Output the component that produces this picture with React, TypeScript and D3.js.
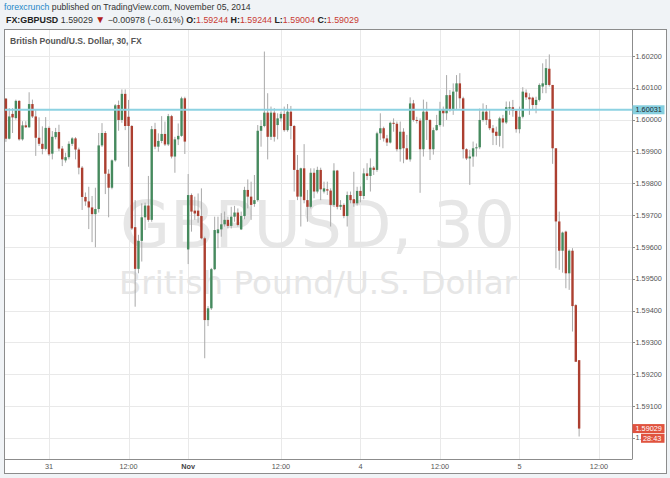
import React from 'react';
import * as d3 from 'd3';

// ---- data (GBPUSD 30-minute candles) ----
const opens = [
  1.60066, 1.5994, 1.60018, 1.60005, 1.60059, 1.59938, 1.59982, 1.59976, 1.60049, 1.6001,
  1.59943, 1.59924, 1.59908, 1.59974, 1.59893, 1.59945, 1.59961, 1.59909, 1.59872, 1.59882,
  1.59924, 1.59941, 1.59906, 1.59849, 1.59757, 1.59743, 1.59724, 1.59703, 1.59719, 1.59919,
  1.59958, 1.5983, 1.59786, 1.59872, 1.60046, 1.59999, 1.60081, 1.60009, 1.5998, 1.59662,
  1.59531, 1.59619, 1.59693, 1.5973, 1.59685, 1.5997, 1.59915, 1.59933, 1.59955, 1.59922,
  1.60011, 1.59884, 1.59938, 1.59949, 1.60067, 1.59592, 1.59763, 1.59714, 1.59714, 1.59697,
  1.59627, 1.5937, 1.59407, 1.5953, 1.59643, 1.59655, 1.59671, 1.59685, 1.59666, 1.59695,
  1.59708, 1.59655, 1.59697, 1.59779, 1.59758, 1.59735, 1.59747, 1.59965, 1.5998, 1.60022,
  1.59946, 1.60022, 1.59983, 1.60004, 1.60018, 1.59967, 1.60025, 1.5998, 1.59842, 1.59758,
  1.59847, 1.59747, 1.59726, 1.59833, 1.59774, 1.59842, 1.59774, 1.59781, 1.59777, 1.59732,
  1.5984, 1.59726, 1.59732, 1.59697, 1.59763, 1.5975, 1.59737, 1.59776, 1.5976, 1.59831,
  1.59823, 1.59849, 1.59842, 1.59957, 1.59973, 1.59941, 1.59928, 1.5999, 1.59987, 1.59907,
  1.59962, 1.5991, 1.59875, 1.60051, 1.59999, 1.59997, 1.59907, 1.60025, 1.59999, 1.59907,
  1.59967, 1.59983, 1.6003, 1.6002, 1.60077, 1.6003, 1.60088, 1.60114, 1.60067, 1.59907,
  1.59878, 1.59884, 1.5991, 1.59913, 1.59999, 1.60025, 1.60001, 1.59973, 1.59962, 1.59949,
  1.60004, 1.59991, 1.60035, 1.60039, 1.60028, 1.5997, 1.60009, 1.60085, 1.6007, 1.60069,
  1.60046, 1.60062, 1.60104, 1.60109, 1.6016, 1.60109, 1.5991, 1.5968, 1.59588, 1.59648,
  1.59517, 1.59588, 1.59417, 1.59244,
];
const highs = [
  1.60068, 1.60036, 1.60036, 1.60063, 1.60061, 1.59995, 1.59995, 1.60086, 1.60063, 1.60031,
  1.60007, 1.59979, 1.60008, 1.59979, 1.59964, 1.59974, 1.59984, 1.59917, 1.59896, 1.59932,
  1.59945, 1.59945, 1.59912, 1.59854, 1.59771, 1.59789, 1.5976, 1.59786, 1.59958, 1.59989,
  1.59964, 1.59844, 1.59875, 1.60049, 1.6006, 1.60095, 1.60095, 1.60062, 1.59983, 1.59747,
  1.59638, 1.59737, 1.59739, 1.59823, 1.5998, 1.5999, 1.59957, 1.60011, 1.59994, 1.60018,
  1.60015, 1.59946, 1.59988, 1.60072, 1.60072, 1.59829, 1.59768, 1.59758, 1.59768, 1.59784,
  1.59632, 1.59414, 1.59534, 1.59695, 1.59695, 1.59706, 1.59711, 1.59695, 1.59726, 1.59729,
  1.59721, 1.59711, 1.59789, 1.59812, 1.59805, 1.59826, 1.59983, 1.59999, 1.60214, 1.60083,
  1.60041, 1.60036, 1.6002, 1.60025, 1.60041, 1.60049, 1.60043, 1.59983, 1.59889, 1.59849,
  1.59923, 1.59779, 1.59847, 1.59847, 1.59852, 1.59849, 1.59805, 1.59805, 1.59784, 1.59863,
  1.59842, 1.59747, 1.59737, 1.59774, 1.59774, 1.59836, 1.59789, 1.5979, 1.59847, 1.59863,
  1.59878, 1.59854, 1.59962, 1.6002, 1.59978, 1.59952, 1.59994, 1.60004, 1.59994, 1.59994,
  1.59973, 1.59952, 1.6007, 1.60062, 1.60009, 1.60004, 1.60063, 1.60056, 1.60001, 1.59975,
  1.60015, 1.60056, 1.60041, 1.6014, 1.60093, 1.60114, 1.6014, 1.60146, 1.60072, 1.5991,
  1.59905, 1.59931, 1.59925, 1.60035, 1.60051, 1.60046, 1.6003, 1.59983, 1.59978, 1.60009,
  1.60015, 1.60057, 1.60057, 1.60062, 1.6003, 1.60041, 1.60102, 1.60095, 1.60083, 1.60072,
  1.60072, 1.60114, 1.60177, 1.6019, 1.60205, 1.60109, 1.5991, 1.59711, 1.59648, 1.59651,
  1.59592, 1.59596, 1.5942, 1.59244,
];
const lows = [
  1.5993, 1.59938, 1.59958, 1.6, 1.59934, 1.59934, 1.59974, 1.59974, 1.60005, 1.59886,
  1.59917, 1.59891, 1.59903, 1.59886, 1.59875, 1.59938, 1.59901, 1.59854, 1.59865, 1.59875,
  1.59917, 1.59875, 1.59828, 1.59716, 1.59729, 1.59656, 1.59615, 1.59599, 1.59708, 1.59914,
  1.59766, 1.59693, 1.59781, 1.59868, 1.59965, 1.5999, 1.59967, 1.59852, 1.59653, 1.59412,
  1.59517, 1.59554, 1.59653, 1.59679, 1.59679, 1.59907, 1.59899, 1.59926, 1.59917, 1.59917,
  1.59878, 1.59833, 1.5992, 1.59946, 1.59892, 1.59546, 1.59648, 1.59685, 1.59676, 1.59624,
  1.5925, 1.59351, 1.59402, 1.59527, 1.59596, 1.59632, 1.59664, 1.59658, 1.59658, 1.59679,
  1.59664, 1.59653, 1.59687, 1.59721, 1.59685, 1.59726, 1.59742, 1.59915, 1.59976, 1.59875,
  1.59936, 1.59931, 1.59938, 1.59994, 1.59962, 1.59962, 1.59938, 1.59774, 1.59747, 1.59664,
  1.59737, 1.59679, 1.59721, 1.59753, 1.59768, 1.59747, 1.59768, 1.59763, 1.59664, 1.59726,
  1.59718, 1.59716, 1.5969, 1.59664, 1.59737, 1.59726, 1.5973, 1.5974, 1.5975, 1.5981,
  1.59774, 1.59826, 1.59836, 1.59936, 1.59931, 1.59917, 1.59925, 1.59962, 1.599, 1.59868,
  1.59863, 1.59873, 1.59868, 1.59994, 1.59988, 1.5977, 1.59884, 1.59936, 1.59873, 1.5989,
  1.59965, 1.59978, 1.59978, 1.59999, 1.60025, 1.60015, 1.6003, 1.60035, 1.59878, 1.59873,
  1.59795, 1.59852, 1.59884, 1.59907, 1.59994, 1.59983, 1.59967, 1.5992, 1.5992, 1.59915,
  1.5991, 1.59986, 1.60015, 1.60009, 1.59959, 1.59957, 1.60004, 1.60062, 1.60015, 1.6003,
  1.6002, 1.60057, 1.60083, 1.60083, 1.60104, 1.59861, 1.59533, 1.59528, 1.59519, 1.5947,
  1.59465, 1.59334, 1.59239, 1.59004,
];
const closes = [
  1.5994, 1.6001, 1.60007, 1.60059, 1.59938, 1.59982, 1.59976, 1.60049, 1.6001, 1.59943,
  1.59924, 1.59908, 1.59974, 1.59891, 1.59946, 1.59961, 1.59909, 1.59875, 1.59882, 1.59924,
  1.59941, 1.59906, 1.59849, 1.59757, 1.59743, 1.59724, 1.59703, 1.59719, 1.59919, 1.59958,
  1.5983, 1.59786, 1.59872, 1.60045, 1.59999, 1.60081, 1.5998, 1.5998, 1.59658, 1.59531,
  1.59619, 1.59693, 1.5973, 1.59685, 1.5997, 1.59915, 1.59933, 1.59955, 1.59922, 1.60011,
  1.59884, 1.59938, 1.59949, 1.60067, 1.59931, 1.59763, 1.59711, 1.59705, 1.59697, 1.59627,
  1.5937, 1.59407, 1.5953, 1.59653, 1.59655, 1.59671, 1.59685, 1.59666, 1.59695, 1.59708,
  1.59669, 1.59697, 1.59779, 1.59758, 1.59732, 1.59747, 1.59965, 1.5998, 1.60022, 1.59946,
  1.60022, 1.59946, 1.60004, 1.60018, 1.59967, 1.60025, 1.5998, 1.59842, 1.59758, 1.59847,
  1.59747, 1.59726, 1.59833, 1.59774, 1.59842, 1.59781, 1.59784, 1.59777, 1.59732, 1.5984,
  1.59726, 1.59732, 1.59697, 1.59763, 1.59747, 1.59737, 1.59776, 1.5976, 1.59831, 1.59823,
  1.59849, 1.59842, 1.59957, 1.59973, 1.59941, 1.59928, 1.5999, 1.59987, 1.59907, 1.59962,
  1.5991, 1.59875, 1.60051, 1.59999, 1.59997, 1.59907, 1.60025, 1.59999, 1.59907, 1.59967,
  1.59983, 1.6003, 1.6002, 1.60077, 1.6003, 1.60088, 1.60114, 1.60067, 1.59907, 1.59878,
  1.59884, 1.5991, 1.59913, 1.59999, 1.60025, 1.59999, 1.59973, 1.59959, 1.59949, 1.60004,
  1.59991, 1.60039, 1.60039, 1.60028, 1.5997, 1.60009, 1.60088, 1.6007, 1.60064, 1.60046,
  1.60062, 1.60109, 1.60114, 1.60162, 1.60109, 1.5991, 1.5968, 1.59588, 1.59645, 1.59517,
  1.59588, 1.59414, 1.59239, 1.59029,
];
const priceTicks = [1.590, 1.591, 1.592, 1.593, 1.594, 1.595, 1.596, 1.597, 1.598, 1.599, 1.600, 1.601, 1.602];
const timeTickIndex = [13, 37, 55, 83, 107, 131, 155, 179];
const timeTickLabels = ['31', '12:00', 'Nov', '12:00', '4', '12:00', '5', '12:00'];
const lastPrice = 1.59029;
const levelPrice = 1.60031;
const countdown = '28:43';

const W = 670;
const H = 478;
const FRAME = { l: 4, t: 29, r: 666, b: 473 };
const PLOT = { l: 4, t: 29, r: 632, b: 459 };
const SANS = '"Liberation Sans", Arial, sans-serif';

const UP = '#468a5e';
const DOWN = '#ac3f30';
const RED_TXT = '#c83a33';

export default function App() {
  const x = d3.scaleLinear().domain([13, 179]).range([49, 599]);
  const y = d3.scaleLinear().domain([1.59, 1.602]).range([437.8, 56]);
  const fmt = d3.format('.5f');
  const bw = 2.4;
  const crisp = (v: number) => Math.round(v) + 0.5;

  const yLast = y(lastPrice);
  const yLevel = y(levelPrice);

  return (
    <svg
      width={W}
      height={H}
      style={{ position: 'absolute', left: 0, top: 0, display: 'block' }}
      fontFamily={SANS}
    >
      <defs>
        <clipPath id="hide-under-countdown">
          <rect x={0} y={0} width={641} height={H} />
        </clipPath>
      </defs>
      <rect x={0} y={0} width={W} height={H} fill="#f0f3f6" />

      {/* header */}
      <text x={4} y={10} fontSize={8.7} fill="#333">
        <tspan fill="#1e88c8">forexcrunch</tspan>
        <tspan> published on TradingView.com, November 05, 2014</tspan>
      </text>
      <text x={6} y={23} fontSize={8.9} fill="#333">
        <tspan fontWeight="bold" fill="#222">FX:GBPUSD</tspan>
        <tspan> 1.59029 </tspan>
        <tspan fill="#b0201a" fontSize={10}>▼</tspan>
        <tspan> −0.00978 (−0.61%) </tspan>
        <tspan fontWeight="bold" fill="#222">O:</tspan>
        <tspan fill={RED_TXT}>1.59244 </tspan>
        <tspan fontWeight="bold" fill="#222">H:</tspan>
        <tspan fill={RED_TXT}>1.59244 </tspan>
        <tspan fontWeight="bold" fill="#222">L:</tspan>
        <tspan fill={RED_TXT}>1.59004 </tspan>
        <tspan fontWeight="bold" fill="#222">C:</tspan>
        <tspan fill={RED_TXT}>1.59029</tspan>
      </text>

      {/* chart frame */}
      <rect
        x={FRAME.l + 0.5}
        y={FRAME.t + 0.5}
        width={FRAME.r - FRAME.l}
        height={FRAME.b - FRAME.t}
        fill="#ffffff"
        stroke="#8c8c8c"
      />

      {/* grid */}
      <g stroke="#e9e9e9" strokeWidth={1}>
        {priceTicks.map((p) => (
          <line key={'h' + p} x1={PLOT.l + 1} x2={PLOT.r} y1={crisp(y(p))} y2={crisp(y(p))} />
        ))}
        {timeTickIndex.map((t) => (
          <line key={'v' + t} x1={crisp(x(t))} x2={crisp(x(t))} y1={PLOT.t + 1} y2={PLOT.b} />
        ))}
      </g>

      {/* watermark */}
      <g fontFamily='"DejaVu Sans", Verdana, sans-serif' fill="#e6e6e6" textAnchor="middle">
        <text x={317.5} y={247} fontSize={64.7}>GBPUSD, 30</text>
        <text x={318} y={293.5} fontSize={32.6}>British Pound/U.S. Dollar</text>
      </g>

      <text x={10} y={44} fontSize={8.6} fontWeight="bold" fill="#555">
        British Pound/U.S. Dollar, 30, FX
      </text>

      {/* candles */}
      <g>
        {opens.map((o, i) => {
          const c = closes[i];
          const cx = x(i);
          const top = y(Math.max(o, c));
          const bot = y(Math.min(o, c));
          const col = c >= o ? UP : DOWN;
          return (
            <g key={i}>
              <line x1={cx} x2={cx} y1={y(highs[i])} y2={y(lows[i])} stroke="#a9a9a9" strokeWidth={1} />
              <rect x={cx - bw / 2} y={top} width={bw} height={Math.max(1, bot - top)} fill={col} />
            </g>
          );
        })}
      </g>

      {/* horizontal level line */}
      <line x1={PLOT.l + 1} x2={PLOT.r} y1={yLevel} y2={yLevel} stroke="#8dd2e2" strokeWidth={2} />

      {/* axes lines */}
      <line x1={PLOT.r + 0.5} x2={PLOT.r + 0.5} y1={PLOT.t} y2={PLOT.b} stroke="#8c8c8c" />
      <line x1={PLOT.l} x2={PLOT.r + 0.5} y1={PLOT.b + 0.5} y2={PLOT.b + 0.5} stroke="#8c8c8c" />

      {/* right axis */}
      <g fontSize={7.3} fill="#555">
        {priceTicks.map((p) => (
          <g key={'t' + p} clipPath={p === 1.59 ? 'url(#hide-under-countdown)' : undefined}>
            <line x1={PLOT.r + 1} x2={PLOT.r + 3} y1={crisp(y(p))} y2={crisp(y(p))} stroke="#8c8c8c" />
            <text x={PLOT.r + 3.5} y={y(p) + 2.6}>{fmt(p)}</text>
          </g>
        ))}
      </g>

      {/* bottom axis */}
      <g fontSize={7.3} fill="#555" textAnchor="middle">
        {timeTickIndex.map((t, k) => (
          <text
            key={'b' + t}
            x={x(t)}
            y={468.5}
            fontWeight={timeTickLabels[k] === 'Nov' ? 'bold' : 'normal'}
            fill={timeTickLabels[k] === 'Nov' ? '#444' : '#555'}
          >
            {timeTickLabels[k]}
          </text>
        ))}
      </g>

      {/* price labels */}
      <rect x={PLOT.r + 0.5} y={yLevel - 4.5} width={32} height={9} fill="#86cfdf" />
      <text x={PLOT.r + 3.5} y={yLevel + 2.6} fontSize={7.3} fill="#1d2b33">{fmt(levelPrice)}</text>

      <rect x={PLOT.r + 0.5} y={yLast - 4.5} width={32} height={9} fill="#e0533f" />
      <text x={PLOT.r + 3.5} y={yLast + 2.6} fontSize={7.3} fill="#ffffff">{fmt(lastPrice)}</text>
      <rect x={641} y={yLast + 5.2} width={23.5} height={9} fill="#e0533f" />
      <text x={643} y={yLast + 12.3} fontSize={7.3} fill="#ffffff">{countdown}</text>
    </svg>
  );
}
